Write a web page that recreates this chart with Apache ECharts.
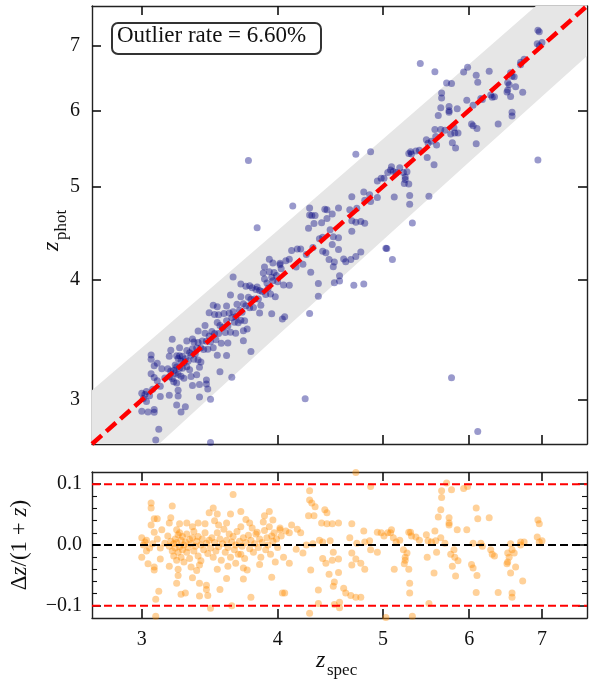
<!DOCTYPE html>
<html>
<head>
<meta charset="utf-8">
<script src="https://cdn.jsdelivr.net/npm/echarts@6/dist/echarts.min.js"></script>
<style>
    html, body { margin: 0; padding: 0; background: #fff; }
    #chart { width: 594px; height: 684px; }
</style>
</head>
<body>
<div id="chart"></div>
<script>
(function () {
    "use strict";

    // axis range (both axes of the upper panel) and tick marks
    var zMin = 2.7, zMax = 7.7;
    var zTicks = [3, 4, 5, 6, 7];
    var dzMin = -0.12, dzMax = 0.12;
    var dzTicks = [-0.1, 0, 0.1];
    var dzMinorTicks = [-0.08, -0.06, -0.04, -0.02, 0.02, 0.04, 0.06, 0.08];
    var outlierCut = 0.1;
    var outlierRate = '6.60%';

    // [z_spec, dz/(1+z)]
    var lowZ = [
        [3.06, 0.069], [3.06, 0.061], [3.20, 0.064], [3.08, 0.043], [3.10, 0.043], [3.19, 0.045],
        [3.18, 0.036], [3.25, 0.035], [3.30, 0.036], [3.34, 0.030], [3.38, 0.036], [3.43, 0.035],
        [3.06, 0.033], [3.08, 0.021], [3.13, 0.025], [3.23, 0.025], [3.24, 0.017], [3.00, 0.012],
        [3.02, 0.005], [3.00, -0.020], [3.04, -0.031], [3.08, -0.036], [3.08, -0.041], [3.12, -0.023],
        [3.18, -0.035], [3.24, -0.040], [3.24, -0.050], [3.33, -0.036], [3.34, -0.054], [3.37, -0.042],
        [3.39, -0.033], [3.39, -0.063], [3.44, -0.066], [3.11, -0.076], [3.23, -0.063], [3.26, -0.081],
        [3.29, -0.079], [3.39, -0.084], [3.09, -0.089], [3.09, -0.117], [3.44, -0.073],
        [3.01, 0.000], [3.03, 0.008], [3.05, -0.005], [3.03, -0.010], [3.07, 0.002], [3.10, 0.010],
        [3.12, -0.005], [3.15, 0.003], [3.17, 0.015], [3.18, -0.002], [3.19, 0.006], [3.20, -0.010],
        [3.21, 0.002], [3.21, -0.018], [3.22, 0.010], [3.22, -0.005], [3.23, -0.025], [3.23, 0.004],
        [3.24, -0.012], [3.25, 0.020], [3.25, -0.003], [3.26, 0.008], [3.26, -0.020], [3.27, -0.008],
        [3.27, 0.014], [3.28, 0.000], [3.28, -0.028], [3.29, 0.005], [3.30, -0.012], [3.30, 0.018],
        [3.31, -0.004], [3.32, 0.009], [3.32, -0.022], [3.33, 0.002], [3.34, 0.012], [3.35, -0.010],
        [3.35, 0.022], [3.36, -0.002], [3.37, 0.006], [3.38, -0.018], [3.38, 0.014], [3.40, 0.000],
        [3.40, -0.026], [3.41, 0.010], [3.42, -0.008], [3.43, 0.020], [3.44, 0.003], [3.45, -0.014],
        [3.46, 0.008]
    ];
    var midZ = [
        [3.64, 0.083], [3.49, 0.061], [3.46, 0.053], [3.52, 0.051], [3.62, 0.051], [3.70, 0.055],
        [3.89, 0.048], [3.93, 0.055], [3.96, 0.041], [3.53, 0.033], [3.59, 0.036], [3.77, 0.036],
        [3.79, 0.028], [3.88, 0.038], [3.83, 0.021], [3.95, 0.015], [3.70, -0.015], [3.72, -0.038],
        [3.75, -0.041], [3.59, -0.055], [3.72, -0.056], [3.95, -0.053], [3.54, -0.073], [3.78, -0.086],
        [3.45, -0.083], [4.04, -0.079], [3.47, -0.104], [3.63, -0.100],
        [3.47, -0.005], [3.48, 0.012], [3.49, -0.020], [3.50, 0.004], [3.51, -0.010], [3.52, 0.020],
        [3.53, -0.003], [3.54, 0.010], [3.55, -0.025], [3.56, 0.002], [3.57, 0.026], [3.58, -0.012],
        [3.59, 0.008], [3.60, -0.004], [3.61, 0.018], [3.62, -0.020], [3.63, 0.005], [3.64, 0.014],
        [3.65, -0.008], [3.66, 0.000], [3.67, 0.022], [3.68, -0.015], [3.69, 0.006], [3.70, 0.030],
        [3.71, -0.002], [3.72, 0.012], [3.73, -0.022], [3.74, 0.004], [3.76, 0.016], [3.77, -0.006],
        [3.78, 0.008], [3.80, -0.012], [3.81, 0.002], [3.82, 0.018], [3.84, -0.004], [3.85, 0.010],
        [3.86, -0.020], [3.87, 0.004], [3.89, 0.024], [3.90, -0.008], [3.91, 0.012], [3.92, 0.000],
        [3.93, 0.030], [3.94, -0.015], [3.96, 0.006], [3.97, 0.020], [3.98, -0.028], [3.99, 0.010],
        [4.00, -0.004], [4.02, 0.028], [4.03, 0.015], [3.66, -0.030], [3.60, -0.035], [3.52, -0.040],
        [3.85, -0.032], [3.50, 0.040], [3.74, 0.042]
    ];
    var highZ = [
        [4.28, 0.089], [4.28, 0.074], [4.30, 0.069], [4.33, 0.063], [4.27, 0.048], [4.32, 0.048],
        [4.42, 0.058], [4.44, 0.053], [4.39, 0.036], [4.44, 0.035], [4.49, 0.035], [4.55, 0.036],
        [4.68, 0.035], [4.12, 0.033], [4.17, 0.026], [4.07, 0.023], [4.10, 0.020], [4.20, 0.020],
        [4.02, 0.025], [4.80, 0.023], [4.94, 0.021], [4.98, 0.020], [5.01, 0.015], [5.08, 0.020],
        [4.37, 0.008], [4.40, 0.005], [4.47, 0.007], [4.31, 0.002], [4.66, 0.012], [4.73, 0.003],
        [4.81, 0.005], [4.86, 0.007], [4.25, 0.000], [4.16, -0.007], [4.05, -0.020], [4.10, -0.030],
        [4.22, -0.013], [4.50, -0.012], [4.40, -0.022], [4.43, -0.030], [4.49, -0.025], [4.55, -0.023],
        [4.68, -0.013], [4.72, -0.023], [4.68, -0.033], [4.77, -0.030], [4.81, -0.040], [4.87, -0.008],
        [4.94, -0.012], [4.29, -0.041], [4.55, -0.045], [4.46, -0.048], [4.51, -0.061], [4.50, -0.068],
        [4.36, -0.074], [4.06, -0.079], [4.60, -0.071], [4.62, -0.079], [4.67, -0.083], [4.72, -0.086],
        [4.77, -0.086], [4.36, -0.096], [4.51, -0.098], [4.56, -0.094], [4.56, -0.103], [4.28, -0.112],
        [4.87, 0.096], [4.72, 0.119], [5.04, -0.121]
    ];
    var topZ = [
        [5.72, 0.102], [5.66, 0.089], [5.66, 0.078], [5.78, 0.091], [5.93, 0.093], [5.98, 0.096],
        [5.65, 0.058], [5.75, 0.045], [5.75, 0.036], [5.75, 0.033], [5.62, 0.046], [6.09, 0.061],
        [6.11, 0.043], [6.26, 0.045], [6.94, 0.041], [6.96, 0.035], [5.85, 0.025], [5.97, 0.025],
        [5.58, 0.023], [5.48, 0.017], [5.36, 0.013], [5.40, 0.008], [5.09, 0.025], [5.05, 0.020],
        [5.11, 0.012], [5.14, 0.005], [5.18, 0.008], [5.28, 0.021], [5.30, 0.021], [5.31, 0.015],
        [5.50, 0.007], [5.54, 0.005], [5.59, 0.007], [5.65, 0.012], [5.70, 0.003], [6.05, 0.003],
        [6.15, 0.003], [6.17, -0.002], [6.55, 0.002], [6.69, 0.005], [6.74, 0.005], [6.96, 0.005],
        [7.00, 0.007], [5.22, -0.008], [5.26, -0.013], [5.24, -0.020], [5.24, -0.025], [5.23, -0.031],
        [5.28, -0.040], [5.29, -0.063], [5.29, -0.079], [5.12, -0.040], [5.49, -0.020], [5.60, -0.012],
        [5.77, -0.015], [5.81, -0.008], [5.82, -0.020], [5.86, -0.026], [5.79, -0.035], [5.83, -0.051],
        [5.57, -0.046], [6.03, -0.032], [6.05, -0.038], [6.10, -0.050], [6.09, -0.078], [6.28, -0.008],
        [6.30, -0.015], [6.33, -0.018], [6.38, -0.078], [6.51, -0.013], [6.53, -0.020], [6.51, -0.028],
        [6.50, -0.031], [6.57, -0.008], [6.60, -0.013], [6.62, -0.036], [6.55, -0.046], [6.72, -0.059],
        [6.57, -0.079], [6.57, -0.086], [5.51, -0.096], [5.32, -0.117], [5.03, -0.119], [6.69, 0.000],
        [6.93, 0.013]
    ];
    var outliers = [
        [3.76, 0.328], [4.13, 0.125], [3.83, 0.145], [6.94, -0.203], [5.78, -0.386], [4.24, -0.235],
        [6.11, -0.468], [5.41, 0.203], [5.58, 0.152], [5.10, -0.148], [4.70, -0.132], [4.80, -0.145],
        [3.47, -0.170]
    ];

    var samples = [].concat(lowZ, midZ, highZ, topZ, outliers);
    var ln = Math.log;

    var photData = samples.map(function (p) {
        return [ln(p[0]), ln(p[0] + p[1] * (1 + p[0]))];
    });
    var resData = samples.map(function (p) {
        return [ln(p[0]), p[1]];
    });
    var bandZ = [2.5, 3, 4, 5, 6, 7, 8];

    var font = '"Liberation Serif", "DejaVu Serif", serif';
    var ink = '#111';
    var lnTicks = zTicks.map(ln);

    function zAxis(grid, pos, labels) {
        return {
            type: 'value', gridIndex: grid, position: pos,
            min: ln(zMin), max: ln(zMax),
            splitLine: {show: false},
            axisLine: {show: true, onZero: false, lineStyle: {color: '#222', width: 1.4}},
            axisTick: {show: true, inside: true, length: 9, customValues: lnTicks,
                lineStyle: {color: ink, width: 1.6}},
            axisLabel: {show: labels, customValues: lnTicks, margin: 12,
                fontFamily: font, fontSize: 20, color: ink,
                formatter: function (v) { return String(Math.round(Math.exp(v))); }}
        };
    }

    function dzAxis(pos, major, labels) {
        var vals = major ? dzTicks : dzMinorTicks;
        return {
            type: 'value', gridIndex: 1, position: pos,
            min: dzMin, max: dzMax,
            splitLine: {show: false},
            axisLine: {show: major, onZero: false, lineStyle: {color: '#222', width: 1.4}},
            axisTick: {show: true, inside: true, length: major ? 9 : 5, customValues: vals,
                lineStyle: {color: ink, width: major ? 1.6 : 1.1}},
            axisLabel: {show: labels, customValues: vals, margin: 10,
                fontFamily: font, fontSize: 20, color: ink,
                formatter: function (v) {
                    return Math.abs(v) < 1e-9 ? '0.0' : (v < 0 ? '\u2212' : '') + Math.abs(v).toFixed(1);
                }}
        };
    }

    var option = {
        animation: false,
        backgroundColor: '#fff',
        grid: [
            {left: 92, top: 6, width: 495, height: 438},
            {left: 92, top: 472, width: 495, height: 146}
        ],
        xAxis: [
            zAxis(0, 'bottom', false), zAxis(0, 'top', false),
            zAxis(1, 'bottom', true), zAxis(1, 'top', false)
        ],
        yAxis: [
            zAxis(0, 'left', true), zAxis(0, 'right', false),
            dzAxis('left', true, true), dzAxis('right', true, false),
            dzAxis('left', false, false), dzAxis('right', false, false)
        ],
        series: [
            {
                type: 'custom', xAxisIndex: 0, yAxisIndex: 0, z: 1, clip: true, silent: true,
                data: [0],
                renderItem: function (params, api) {
                    var upper = bandZ.map(function (z) {
                        return api.coord([ln(z), ln(z + outlierCut * (1 + z))]);
                    });
                    var lower = bandZ.slice().reverse().map(function (z) {
                        return api.coord([ln(z), ln(z - outlierCut * (1 + z))]);
                    });
                    return {type: 'polygon', shape: {points: upper.concat(lower)},
                        style: {fill: '#e6e6e6'}};
                }
            },
            {
                type: 'scatter', xAxisIndex: 0, yAxisIndex: 0, z: 2,
                data: photData, symbolSize: 7,
                itemStyle: {color: 'rgba(0,0,128,0.5)'}
            },
            {
                type: 'line', xAxisIndex: 0, yAxisIndex: 0, z: 3, symbol: 'none',
                data: [[ln(zMin), ln(zMin)], [ln(zMax), ln(zMax)]],
                lineStyle: {color: '#ff0000', width: 4.5, type: [13, 6]}
            },
            {
                type: 'scatter', xAxisIndex: 2, yAxisIndex: 2, z: 2,
                data: resData, symbolSize: 7,
                itemStyle: {color: 'rgba(255,140,0,0.5)'}
            },
            {
                type: 'line', xAxisIndex: 2, yAxisIndex: 2, z: 3, symbol: 'none',
                data: [[ln(zMin), 0], [ln(zMax), 0]],
                lineStyle: {color: '#000', width: 2, type: [8, 4]}
            },
            {
                type: 'line', xAxisIndex: 2, yAxisIndex: 2, z: 3, symbol: 'none',
                data: [[ln(zMin), outlierCut], [ln(zMax), outlierCut]],
                lineStyle: {color: '#ff0000', width: 2, type: [8, 4]}
            },
            {
                type: 'line', xAxisIndex: 2, yAxisIndex: 2, z: 3, symbol: 'none',
                data: [[ln(zMin), -outlierCut], [ln(zMax), -outlierCut]],
                lineStyle: {color: '#ff0000', width: 2, type: [8, 4]}
            }
        ],
        graphic: [
            {
                type: 'rect', left: 111, top: 22, z: 10,
                shape: {width: 209, height: 31, r: 6},
                style: {fill: '#fff', stroke: '#333', lineWidth: 2}
            },
            {
                type: 'text', left: 117, top: 24, z: 11,
                style: {text: 'Outlier rate = ' + outlierRate, font: '23px ' + font, fill: ink}
            },
            {
                type: 'group', x: 64, y: 251, rotation: Math.PI / 2,
                children: [
                    {type: 'text', x: 0, y: 0, style: {text: 'z', font: 'italic 24px ' + font,
                        fill: ink, verticalAlign: 'bottom'}},
                    {type: 'text', x: 11, y: 6, style: {text: 'phot', font: '17px ' + font,
                        fill: ink, verticalAlign: 'bottom'}}
                ]
            },
            {
                type: 'text', x: 31, y: 545, rotation: Math.PI / 2,
                style: {
                    text: '{u|\u0394}{i|z}{u|/(1 + }{i|z}{u|)}',
                    align: 'center', verticalAlign: 'bottom',
                    rich: {
                        u: {font: '23px ' + font, fill: ink},
                        i: {font: 'italic 23px ' + font, fill: ink}
                    }
                }
            },
            {
                type: 'group', x: 316, y: 673,
                children: [
                    {type: 'text', x: 0, y: 0, style: {text: 'z', font: 'italic 24px ' + font,
                        fill: ink, verticalAlign: 'bottom'}},
                    {type: 'text', x: 11, y: 6, style: {text: 'spec', font: '17px ' + font,
                        fill: ink, verticalAlign: 'bottom'}}
                ]
            }
        ]
    };

    var chart = echarts.init(document.getElementById('chart'), null, {renderer: 'canvas'});
    chart.setOption(option);
}());
</script>
</body>
</html>
